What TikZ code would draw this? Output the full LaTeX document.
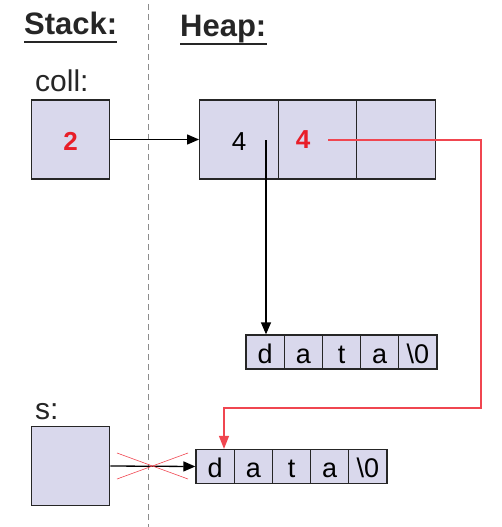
\documentclass[tikz,border=0pt]{standalone}
\usepackage{fontspec}
\setmainfont{Liberation Sans}
\usetikzlibrary{arrows.meta}

\definecolor{cellfill}{RGB}{217,216,236}
\definecolor{valred}{RGB}{232,30,40}
\definecolor{linkred}{RGB}{240,70,80}
\definecolor{sepgray}{RGB}{140,140,140}

\tikzset{
  cell/.style={draw=black!85, fill=cellfill, line width=1.4pt, minimum width=78.5pt, minimum height=79pt,
    inner sep=0pt, text height=21pt, text depth=0pt, font=\fontsize{26}{26}\selectfont},
  chr/.style={draw=black!85, fill=cellfill, line width=1.3pt, minimum width=38.2pt, minimum height=34pt,
    inner sep=0pt, text height=22pt, text depth=0pt, font=\fontsize{27}{27}\selectfont},
  heading/.style={font=\fontsize{31}{31}\bfseries, text=black!85, inner sep=0pt},
  varlabel/.style={font=\fontsize{30}{30}\selectfont, text=black!85, inner sep=0pt},
  valtext/.style={text=valred, font=\fontsize{26}{26}\bfseries},
  ptr/.style={-{Triangle[length=12pt,width=10pt]}, line width=1.3pt},
}

\begin{document}
\begin{tikzpicture}[x=1pt, y=-1pt]
  \useasboundingbox (0,0) rectangle (502,527);

  % Stack and Heap
  \node[heading, anchor=base west] (stack) at (24,35) {Stack:};
  \node[heading, anchor=base west] (heap) at (180,37) {Heap:};
  \draw[line width=2.6pt, black!85] ([yshift=-7pt]stack.base west) -- ([yshift=-7pt]stack.base east);
  \draw[line width=2.6pt, black!85] ([yshift=-7pt]heap.base west) -- ([yshift=-7pt]heap.base east);
  \coordinate (septop) at (148,4);
  \coordinate (sepbot) at (148,527);
  \draw[sepgray, line width=1pt, dash pattern=on 6pt off 4pt] (septop) -- (sepbot);

  % coll
  \node[varlabel, anchor=base west] (colllabel) at (35,91) {coll:};
  \node[cell, valtext] (coll) at (70.5,139.5) {2};
  \node[cell] (h1) at (239,139.5) {4};
  \node[cell] (h2) at (317.5,139.5) {};
  \node[cell] (h3) at (396,139.5) {};
  \node[valtext, inner sep=0pt] (cap) at (303,140) {4};

  \draw[ptr] (coll.east) -- (h1.west);

  % data of coll
  \foreach \c [count=\i] in {d,a,t,a,\textbackslash0}
    \node[chr] (a\i) at (246+19.1+38.2*\i-38.2,352) {\c};

  % data of s
  \foreach \c [count=\i] in {d,a,t,a,\textbackslash0}
    \node[chr] (b\i) at (196+19.1+38.2*\i-38.2,466.5) {\c};

  \coordinate (ptrstart) at (266,140);
  \draw[ptr] (ptrstart) -- (ptrstart |- a1.north);

  % red link
  \coordinate (redstart) at (328,140);
  \coordinate (redright) at (481,140);
  \coordinate (redlow) at (481,408);
  \coordinate (redleft) at (224,408);
  \draw[linkred, line width=1.3pt, -{Triangle[length=13pt,width=10pt]}]
    (redstart) -- (redright) -- (redlow) -- (redleft) -- (redleft |- b1.north);

  % s
  \node[varlabel, anchor=base west] (slabel) at (35,419) {s:};
  \node[cell] (s) at (70.5,466) {};
  \draw[ptr] (s.east) -- (b1.west);

  \coordinate (x1) at (117,453);
  \coordinate (x2) at (188,479);
  \coordinate (x3) at (117,479);
  \coordinate (x4) at (188,453);
  \draw[linkred, line width=0.6pt] (x1) -- (x2) (x3) -- (x4);
\end{tikzpicture}
\end{document}
